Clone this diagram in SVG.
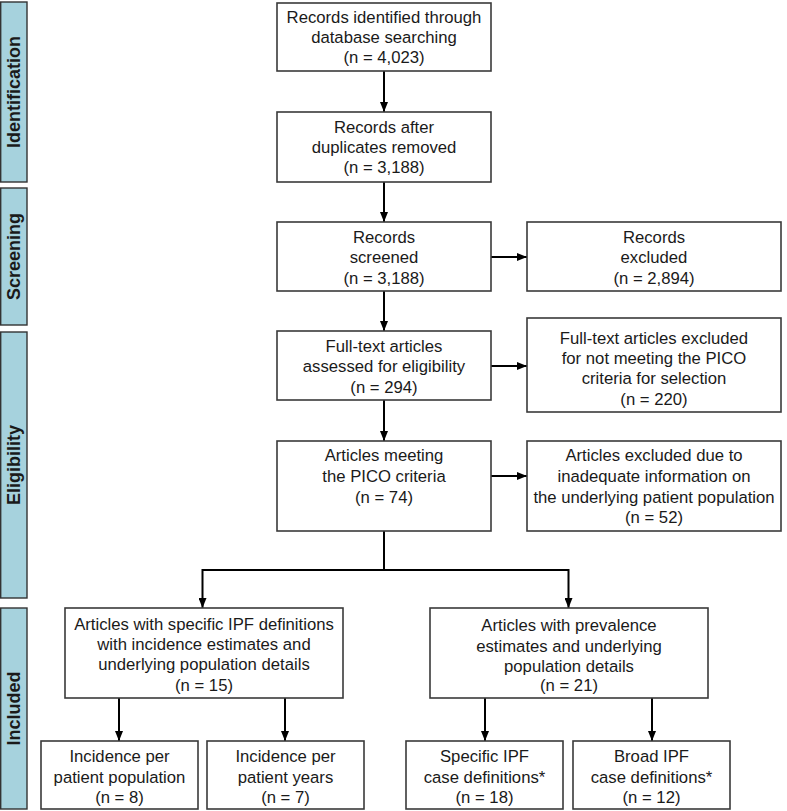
<svg xmlns="http://www.w3.org/2000/svg" width="787" height="811" viewBox="0 0 787 811">
<style>
.box{fill:#fff;stroke:#3a3a3a;stroke-width:1.6}
.bar{fill:#a6d2dd;stroke:#333;stroke-width:1.4}
.t{font-family:"Liberation Sans",Arial,sans-serif;font-size:16.7px;fill:#1a1a1a;text-anchor:middle}
.lbl{font-family:"Liberation Sans",Arial,sans-serif;font-size:18px;font-weight:bold;fill:#1a1a1a;text-anchor:middle}
.c{fill:none;stroke:#000;stroke-width:2}
.a{marker-end:url(#ah)}
</style>
<defs>
<marker id="ah" markerUnits="userSpaceOnUse" markerWidth="10" markerHeight="8" refX="10" refY="4" orient="auto">
<path d="M0,0 L10,4 L0,8 z" fill="#000"/>
</marker>
</defs>
<g id="phases">
<g id="phase-identification"><rect class="bar" x="0.7" y="2" width="26.3" height="180"/><text class="lbl" transform="translate(20,92) rotate(-90)">Identification</text></g>
<g id="phase-screening"><rect class="bar" x="0.7" y="188" width="26.3" height="137"/><text class="lbl" transform="translate(20,256.5) rotate(-90)">Screening</text></g>
<g id="phase-eligibility"><rect class="bar" x="0.7" y="332" width="26.3" height="266"/><text class="lbl" transform="translate(20,465) rotate(-90)">Eligibility</text></g>
<g id="phase-included"><rect class="bar" x="0.7" y="608" width="26.3" height="201"/><text class="lbl" transform="translate(20,708.5) rotate(-90)">Included</text></g>
</g>
<g id="connectors">
<line class="c a" x1="384" y1="71" x2="384" y2="112"/>
<line class="c a" x1="384" y1="182" x2="384" y2="222"/>
<line class="c a" x1="384" y1="291" x2="384" y2="331"/>
<line class="c a" x1="384" y1="400" x2="384" y2="441"/>
<line class="c a" x1="491" y1="257" x2="527" y2="257"/>
<line class="c a" x1="491" y1="366" x2="527" y2="366"/>
<line class="c a" x1="491" y1="476" x2="527" y2="476"/>
<line class="c" x1="384" y1="531" x2="384" y2="570"/>
<path class="c a" d="M384,570 H202.5 V608"/>
<path class="c a" d="M384,570 H568.5 V608"/>
<line class="c a" x1="119" y1="698" x2="119" y2="741"/>
<line class="c a" x1="285" y1="698" x2="285" y2="741"/>
<line class="c a" x1="485" y1="698" x2="485" y2="741"/>
<line class="c a" x1="652" y1="698" x2="652" y2="741"/>
</g>
<g id="n-identified"><rect class="box" x="277" y="3" width="214" height="68"/>
<text class="t" x="384" y="23">Records identified through</text><text class="t" x="384" y="43">database searching</text><text class="t" x="384" y="63">(n = 4,023)</text></g>
<g id="n-dedup"><rect class="box" x="277" y="112" width="214" height="70"/>
<text class="t" x="384" y="133">Records after</text><text class="t" x="384" y="153">duplicates removed</text><text class="t" x="384" y="173">(n = 3,188)</text></g>
<g id="n-screened"><rect class="box" x="277" y="222" width="214" height="69"/>
<text class="t" x="384" y="243">Records</text><text class="t" x="384" y="263">screened</text><text class="t" x="384" y="284">(n = 3,188)</text></g>
<g id="n-excluded1"><rect class="box" x="527" y="222" width="254" height="69"/>
<text class="t" x="654" y="243">Records</text><text class="t" x="654" y="263">excluded</text><text class="t" x="654" y="284">(n = 2,894)</text></g>
<g id="n-fulltext"><rect class="box" x="277" y="331" width="214" height="69"/>
<text class="t" x="384" y="352">Full-text articles</text><text class="t" x="384" y="372">assessed for eligibility</text><text class="t" x="384" y="393">(n = 294)</text></g>
<g id="n-excluded2"><rect class="box" x="527" y="318" width="254" height="94"/>
<text class="t" x="654" y="344">Full-text articles excluded</text><text class="t" x="654" y="364">for not meeting the PICO</text><text class="t" x="654" y="384">criteria for selection</text><text class="t" x="654" y="405">(n = 220)</text></g>
<g id="n-pico"><rect class="box" x="277" y="441" width="214" height="90"/>
<text class="t" x="384" y="461">Articles meeting</text><text class="t" x="384" y="482">the PICO criteria</text><text class="t" x="384" y="503">(n = 74)</text></g>
<g id="n-excluded3"><rect class="box" x="527" y="441" width="254" height="90"/>
<text class="t" x="654" y="461">Articles excluded due to</text><text class="t" x="654" y="482">inadequate information on</text><text class="t" x="654" y="503">the underlying patient population</text><text class="t" x="654" y="523">(n = 52)</text></g>
<g id="n-incidence"><rect class="box" x="65" y="608" width="278" height="90"/>
<text class="t" x="204" y="630">Articles with specific IPF definitions</text><text class="t" x="204" y="650">with incidence estimates and</text><text class="t" x="204" y="670">underlying population details</text><text class="t" x="204" y="691">(n = 15)</text></g>
<g id="n-prevalence"><rect class="box" x="430" y="608" width="278" height="90"/>
<text class="t" x="569" y="631">Articles with prevalence</text><text class="t" x="569" y="652">estimates and underlying</text><text class="t" x="569" y="672">population details</text><text class="t" x="569" y="691">(n = 21)</text></g>
<g id="n-inc-pop"><rect class="box" x="41" y="741" width="157" height="68"/>
<text class="t" x="119.5" y="762">Incidence per</text><text class="t" x="119.5" y="783">patient population</text><text class="t" x="119.5" y="803">(n = 8)</text></g>
<g id="n-inc-years"><rect class="box" x="207" y="741" width="157" height="68"/>
<text class="t" x="285.5" y="762">Incidence per</text><text class="t" x="285.5" y="783">patient years</text><text class="t" x="285.5" y="803">(n = 7)</text></g>
<g id="n-specific"><rect class="box" x="406" y="741" width="157" height="68"/>
<text class="t" x="484.5" y="762">Specific IPF</text><text class="t" x="484.5" y="783">case definitions*</text><text class="t" x="484.5" y="803">(n = 18)</text></g>
<g id="n-broad"><rect class="box" x="573" y="741" width="157" height="68"/>
<text class="t" x="651.5" y="762">Broad IPF</text><text class="t" x="651.5" y="783">case definitions*</text><text class="t" x="651.5" y="803">(n = 12)</text></g>
</svg>
